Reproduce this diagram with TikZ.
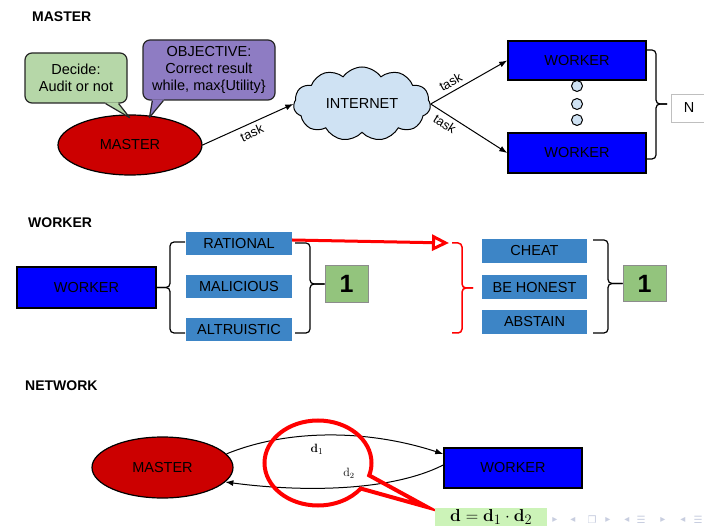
\documentclass[tikz,border=0pt]{standalone}
\usepackage[no-math]{fontspec}
\setmainfont{Liberation Sans}
\newfontfamily\dejavu{DejaVu Sans}
\usetikzlibrary{shapes.geometric,shapes.symbols,shapes.callouts,arrows.meta,calc}
\definecolor{mred}{HTML}{CC0000}
\definecolor{wblue}{HTML}{0000FF}
\definecolor{sblue}{HTML}{3D85C6}
\definecolor{ogreen}{HTML}{93C47D}
\definecolor{bgreen}{HTML}{B6D7A8}
\definecolor{bpurple}{HTML}{8E7CC3}
\definecolor{cloudc}{HTML}{CFE2F3}
\definecolor{fgreen}{HTML}{CCF3B8}
\definecolor{navc}{HTML}{C8CEE0}
\begin{document}
\begin{tikzpicture}[x=1pt,y=-1pt,
  font=\fontsize{14.5}{17}\selectfont,
  title/.style={font=\fontsize{14}{16}\selectfont\bfseries, anchor=west, inner sep=0},
  bubble/.style={draw=black!85, line width=1.2pt, rounded corners=7pt, align=center, inner sep=0},
  wbox/.style={draw=black, line width=1.5pt, fill=wblue, minimum width=138pt, minimum height=39pt, inner sep=0},
  sbox/.style={fill=sblue, minimum width=106pt, minimum height=23pt, inner sep=0},
  onebox/.style={fill=ogreen, draw=black!45, line width=0.6pt, minimum width=43pt, minimum height=37pt, inner sep=0, font=\fontsize{25}{28}\selectfont\bfseries},
  mell/.style={ellipse, draw=black, line width=1.2pt, fill=mred, inner sep=0},
  arr/.style={-{Latex[length=8pt,width=6pt]}, line width=1pt},
  brk/.style={line width=1.2pt, rounded corners=4pt},
  tasklbl/.style={font=\fontsize{13}{15}\selectfont, sloped, inner sep=4pt},
  dotc/.style={circle, draw=black, line width=1pt, fill=cloudc, minimum size=11pt, inner sep=0},
  navs/.style={text=navc, inner sep=0, font=\dejavu\fontsize{10}{12}\selectfont}
]
\useasboundingbox (0,0) rectangle (704,526);
\fill[white] (0,0) rectangle (704,526);

% ---------------- MASTER section ----------------
\node[title] (t1) at (32,17) {MASTER};

\node[mell, minimum width=144pt, minimum height=60pt] (m1) at (130,145) {MASTER};

\node[bubble, fill=bgreen, minimum width=102pt, minimum height=50pt] (dec) at (76,78) {Decide:\\Audit or not};
\fill[bgreen] ($(dec.south east)+(-22.5,-1.2)$) -- ($(dec.south east)+(2,14)$) -- ($(dec.south east)+(-9.5,-1.2)$) -- cycle;
\draw[line width=1.2pt, draw=black!85, line join=round] ($(dec.south east)+(-22,0)$) -- ($(dec.south east)+(2,14)$) -- ($(dec.south east)+(-9,0)$);

\node[bubble, fill=bpurple, minimum width=132pt, minimum height=60pt] (obj) at (209,70) {OBJECTIVE:\\Correct result\\while, max\{Utility\}};
\fill[bpurple] ($(obj.south west)+(9.5,-1.2)$) -- ($(obj.south west)+(7,17)$) -- ($(obj.south west)+(21.5,-1.2)$) -- cycle;
\draw[line width=1.2pt, draw=black!85, line join=round] ($(obj.south west)+(10,0)$) -- ($(obj.south west)+(7,17)$) -- ($(obj.south west)+(21,0)$);

\node[cloud, cloud puffs=11, cloud puff arc=110, aspect=1.85, draw=black, line width=1pt, fill=cloudc,
      minimum width=137pt, minimum height=74pt, inner sep=0] (net) at (362,104) {INTERNET};

\node[wbox] (wk1) at (577,60.5) {WORKER};
\node[wbox, minimum height=40pt] (wk2) at (577,153) {WORKER};

\node[dotc] (dA) at (577,86) {};
\node[dotc] (dB) at (577,104) {};
\node[dotc] (dC) at (577,120) {};

\draw[arr] (m1.east) -- node[tasklbl, below, pos=0.5] {task} (net.west);
\draw[arr] (net.east) -- node[tasklbl, above, pos=0.32] {task} (wk1.west);
\draw[arr] (net.east) -- node[tasklbl, below, pos=0.25] {task} (wk2.west);

\coordinate (nt) at (667,104);
\draw[brk] (647,50) -- (656,50) -- (656,104) -- (nt);
\draw[brk] (nt) -- (656,104) -- (656,159) -- (647,159);
\draw[black!25, line width=0.8pt] (706,94) -- (671,94) -- (671,122) -- (706,122);
\node (N) at (689,108) {N};

% ---------------- WORKER section ----------------
\node[title] (t2) at (28,223) {WORKER};

\node[wbox, minimum width=139pt, minimum height=41pt] (wk3) at (86.5,287.5) {WORKER};

\node[sbox] (rat) at (239,243.5) {RATIONAL};
\node[sbox] (mal) at (239,286.5) {MALICIOUS};
\node[sbox] (alt) at (239,330) {ALTRUISTIC};

\draw[brk] (185,242) -- (170,242) -- (170,287.5) -- (wk3.east);
\draw[brk] (wk3.east) -- (170,287.5) -- (170,333) -- (185,333);

\node[onebox] (one1) at (346.5,284) {1};
\draw[brk] (295,243) -- (310,243) -- (310,284) -- (one1.west);
\draw[brk] (one1.west) -- (310,284) -- (310,333) -- (295,333);

\coordinate (rtip) at (449,243);
\draw[red, line width=3pt, -{Triangle[open, length=17pt, width=16pt]}] ($(rat.east)+(0,-3.5)$) -- (rtip);
\draw[brk, red, line width=1.5pt] (452,243) -- (462,243) -- (462,288) -- (473,288);
\draw[brk, red, line width=1.5pt] (473,288) -- (462,288) -- (462,333) -- (452,333);

\node[sbox, minimum width=105pt, minimum height=24pt] (cheat) at (534.5,251) {CHEAT};
\node[sbox, minimum width=105pt, minimum height=24pt] (hon) at (534.5,287.5) {BE HONEST};
\node[sbox, minimum width=105pt, minimum height=24pt] (abs) at (534.5,322) {ABSTAIN};

\node[onebox, minimum height=36pt] (one2) at (644.5,283.5) {1};
\draw[brk] (593,240) -- (608,240) -- (608,283.5) -- (one2.west);
\draw[brk] (one2.west) -- (608,283.5) -- (608,333) -- (593,333);

% ---------------- NETWORK section ----------------
\node[title] (t3) at (25,386) {NETWORK};

\node[mell, minimum width=141pt, minimum height=61pt] (m2) at (162.5,467.5) {MASTER};
\node[wbox, minimum width=138pt, minimum height=40pt] (wk4) at (513,468) {WORKER};

\draw[arr] (m2.12) .. controls (290,428) and (370,430) .. ($(wk4.west)+(0,-14)$);
\draw[arr] ($(wk4.west)+(0,-3)$) .. controls (390,492) and (300,492) .. (m2.-13);
\node[font=\fontsize{13}{15}\selectfont] (d1) at (317,449) {$\mathbf{d}_1$};
\node[font=\fontsize{12}{14}\selectfont] (d2) at (349,473) {$\mathrm{d}_2$};

\node[ellipse callout, draw=red, line width=4pt, minimum width=107pt, minimum height=85pt, inner sep=0,
      callout absolute pointer={(427,507)}, callout pointer arc=20] (rc) at (318,463) {};

\node[fill=fgreen, minimum width=112pt, minimum height=18pt, inner sep=0, anchor=north west,
      font=\fontsize{19}{21}\selectfont] (fm) at (435,508) {$\mathbf{d}=\mathbf{d}_1\cdot\mathbf{d}_2$};

\foreach \xx/\gg [count=\i] in {555/▸,573/◂,592/❐,608/▸,627/◂,641/☰,663/▸,683/◂,698/☰}
  \node[navs] (nav\i) at (\xx,520) {\gg};
\end{tikzpicture}
\end{document}
